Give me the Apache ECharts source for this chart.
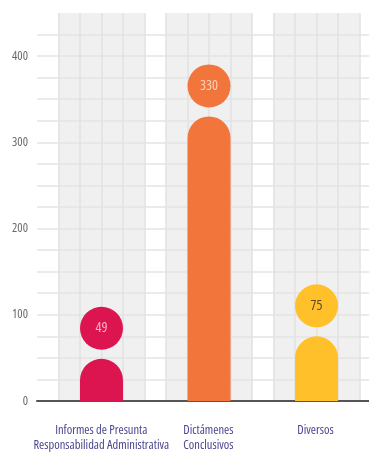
<!DOCTYPE html>
<html><head><meta charset="utf-8">
<script src="https://cdn.jsdelivr.net/npm/echarts@6/dist/echarts.min.js"></script>
<style>html,body{margin:0;padding:0;background:#fff}#c{width:369px;height:453px}</style>
</head><body><div id="c"></div>
<script>
// Data
const categories = ['Informes de Presunta\nResponsabilidad Administrativa', 'Dictámenes\nConclusivos', 'Diversos'];
const values = [49, 330, 75];
const categoryPositions = [3, 8, 13];        // centre of each band on the hidden cell axis
const bandRanges = [[1, 5], [6, 10], [11, 15]];
const yTicks = [0, 100, 200, 300, 400];

const barColors = ['#DC1450', '#F2763B', '#FFC02A'];
const labelColors = ['#F7B6C8', '#FCD3BC', '#5A4A2A'];

// choose the family that narrows the most when asked for a condensed stretch
function pickFont() {
  const c = document.createElement('canvas').getContext('2d');
  const s = 'Responsabilidad Administrativa 0123';
  const fams = ['Open Sans', 'Noto Sans', 'DejaVu Sans', 'Liberation Sans', 'Roboto', 'Lato', 'Inter'];
  let best = { fam: 'Roboto', ratio: 1, w: 999 };
  for (const f of fams) {
    c.font = 'normal normal 12px "' + f + '"'; const a = c.measureText(s).width;
    c.font = 'condensed normal 12px "' + f + '"'; const b = c.measureText(s).width;
    const r = b / a;
    if (r < best.ratio - 0.02) best = { fam: f, ratio: r, w: b };
  }
  return best;
}
const picked = pickFont();
const FONT = '"' + picked.fam + '", sans-serif';
const STRETCH = picked.ratio < 0.98 ? 'condensed' : 'normal';
const baseSize = picked.ratio < 0.98 ? 12.5 : 10.5;

const barData = values.map((v, i) => ({
  value: [categoryPositions[i], v],
  itemStyle: { color: barColors[i], borderRadius: [22, 22, 0, 0] }
}));
const dotData = values.map((v, i) => ({
  value: [categoryPositions[i], v],
  itemStyle: { color: barColors[i], opacity: 1 },
  label: { color: labelColors[i] }
}));

const chart = echarts.init(document.getElementById('c'), null, { renderer: 'canvas' });
chart.setOption({
  animation: false,
  grid: [
    { left: 37, right: 0, top: 13, bottom: 52, containLabel: false },
    { left: 47.75, width: 322.5, top: 13, bottom: 52, containLabel: false }
  ],
  xAxis: [
    {
      type: 'value', min: 0, max: 15.44, interval: 1, z: 1, gridIndex: 0,
      axisLine: { show: true, onZero: false, lineStyle: { color: '#555', width: 2 } },
      axisTick: { show: false },
      axisLabel: { show: false },
      splitLine: { show: true, showMinLine: false, showMaxLine: false, lineStyle: { color: '#E2E2E2', width: 1.5 } }
    },
    {
      type: 'category', data: categories, gridIndex: 1,
      axisLine: { show: false }, axisTick: { show: false }, splitLine: { show: false },
      axisLabel: {
        interval: 0, hideOverlap: false,
        color: '#4A468E', fontFamily: FONT, fontStyle: STRETCH, fontSize: baseSize, lineHeight: 15, margin: 25
      }
    }
  ],
  yAxis: [
    {
      type: 'value', min: 0, max: 450, interval: 25, z: 1, gridIndex: 0,
      axisLine: { show: false }, axisTick: { show: false },
      axisLabel: {
        formatter: v => (yTicks.indexOf(v) >= 0 ? String(v) : ''),
        color: '#6A6A6A', fontFamily: FONT, fontStyle: STRETCH, fontSize: baseSize, margin: 9
      },
      splitLine: { show: true, showMaxLine: false, lineStyle: { color: '#E4E4E4', width: 1.5 } }
    },
    {
      type: 'value', min: 0, max: 450, gridIndex: 1, show: false
    }
  ],
  series: [
    {
      type: 'bar', data: barData, barWidth: 43, z: 3, xAxisIndex: 0, yAxisIndex: 0,
      markArea: {
        silent: true, z: 0,
        itemStyle: { color: '#F0F0F0' },
        data: bandRanges.map(r => [{ xAxis: r[0], yAxis: 0 }, { xAxis: r[1], yAxis: 450 }])
      }
    },
    {
      type: 'scatter', data: dotData, symbol: 'circle', symbolSize: 43, symbolOffset: [0, -30.5], z: 4,
      xAxisIndex: 0, yAxisIndex: 0,
      itemStyle: { opacity: 1 },
      emphasis: { disabled: true },
      label: {
        show: true, position: 'inside', fontFamily: FONT, fontStyle: STRETCH, fontSize: baseSize + 1.5,
        formatter: p => String(p.value[1])
      }
    }
  ]
});
</script></body></html>
